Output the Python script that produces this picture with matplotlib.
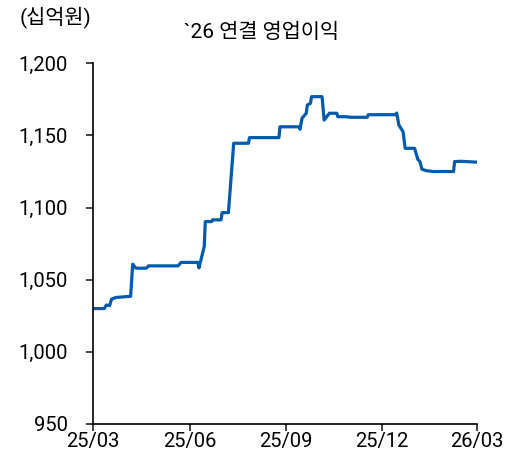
import matplotlib
matplotlib.use("Agg")
import matplotlib.pyplot as plt
import matplotlib.dates as mdates
import pandas as pd

plt.rcParams["font.family"] = ["Roboto", "Noto Sans CJK KR", "DejaVu Sans"]

# consensus path of 2026 operating profit (KRW bn)
dates = [
    "2025-03-01", "2025-03-12", "2025-03-14", "2025-03-17", "2025-03-19", "2025-03-23",
    "2025-04-06", "2025-04-08", "2025-04-11", "2025-04-21", "2025-04-23", "2025-05-21",
    "2025-05-24", "2025-06-09", "2025-06-10", "2025-06-15", "2025-06-16", "2025-06-22",
    "2025-06-23", "2025-07-01", "2025-07-02", "2025-07-08", "2025-07-12", "2025-07-13",
    "2025-07-27", "2025-07-28", "2025-08-25", "2025-08-26", "2025-09-13", "2025-09-14",
    "2025-09-16", "2025-09-20", "2025-09-21", "2025-09-24", "2025-09-25", "2025-10-05",
    "2025-10-07", "2025-10-12", "2025-10-19", "2025-10-20", "2025-10-28", "2025-11-01",
    "2025-11-17", "2025-11-18", "2025-12-14", "2025-12-15", "2025-12-17", "2025-12-21",
    "2025-12-23", "2026-01-01", "2026-01-04", "2026-01-06", "2026-01-08", "2026-01-12",
    "2026-01-19", "2026-02-07", "2026-02-08", "2026-02-14", "2026-03-01",
]
values = [
    1030.0, 1030.0, 1032.5, 1032.0, 1036.6, 1037.7,
    1038.5, 1060.8, 1058.0, 1058.0, 1059.6, 1059.6,
    1062.0, 1062.0, 1058.2, 1073.0, 1090.3, 1090.3,
    1091.5, 1091.5, 1096.5, 1096.5, 1135.0, 1144.6,
    1144.6, 1148.5, 1148.5, 1156.0, 1156.0, 1154.3,
    1162.0, 1165.4, 1171.1, 1172.3, 1176.9, 1176.9,
    1160.7, 1165.4, 1165.4, 1163.0, 1163.0, 1162.6,
    1162.6, 1164.4, 1164.4, 1165.5, 1157.3, 1152.6,
    1141.1, 1141.1, 1133.5, 1131.9, 1126.6, 1125.6,
    1125.0, 1125.0, 1131.9, 1132.1, 1131.5,
]
x_ticks = ["2025-03-01", "2025-06-01", "2025-09-01", "2025-12-01", "2026-03-01"]
y_ticks = [950, 1000, 1050, 1100, 1150, 1200]

dt = pd.to_datetime(dates)
xt = pd.to_datetime(x_ticks)

fig = plt.figure(figsize=(5.16, 4.59), dpi=100)
ax = fig.add_axes([0.1797, 0.0763, 0.7441, 0.7857])

ax.plot(dt, values, color="#005BAC", lw=2.3, solid_joinstyle="round")

ax.set_xlim(xt[0], xt[-1])
ax.set_ylim(950, 1200)
ax.set_xticks(xt)
ax.xaxis.set_major_formatter(mdates.DateFormatter("%y/%m"))
ax.set_yticks(y_ticks)
ax.set_yticklabels([f"{v:,}" for v in y_ticks])

for s in ["top", "right"]:
    ax.spines[s].set_visible(False)
for s in ["left", "bottom"]:
    ax.spines[s].set_linewidth(1.2)
ax.tick_params(axis="both", labelsize=14.5, length=5, width=1.2, color="#222222")
ax.tick_params(axis="x", pad=1)
ax.tick_params(axis="y", pad=13)

fig.text(0.507, 0.93, "`26 연결 영업이익", ha="center", va="center", fontsize=15)
fig.text(0.1085, 0.962, "(십억원)", ha="center", va="center", fontsize=15)

fig.savefig("out.png", dpi=100)
